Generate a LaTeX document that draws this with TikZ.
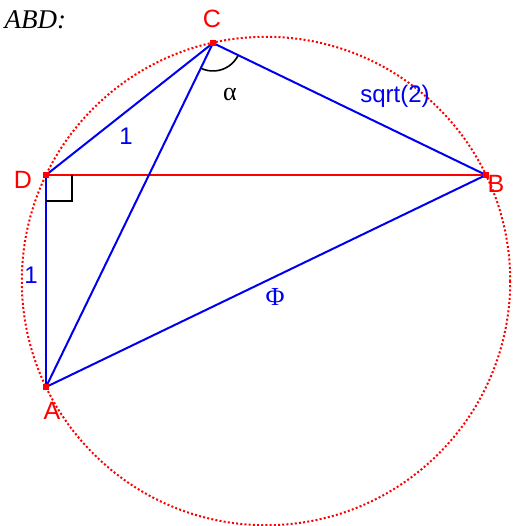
\documentclass[tikz,border=0pt]{standalone}
\usepackage{fontspec}
\setmainfont{Liberation Sans}
\newfontfamily\greekfont{Liberation Serif}
\definecolor{ptred}{HTML}{FF0000}
\definecolor{segblue}{HTML}{0000F0}
\usetikzlibrary{angles, calc}

\tikzset{
  seg/.style={segblue, line width=2pt},
  vlabel/.style={ptred, font=\fontsize{25}{28}\selectfont},
  slabel/.style={segblue, font=\fontsize{24}{28}\selectfont},
  dot/.style={fill=ptred, minimum size=6pt, inner sep=0pt}
}

\begin{document}
\begin{tikzpicture}[x=1pt, y=-1pt]
   \useasboundingbox (0,0) rectangle (512,526);
   % Points of the quadrilateral
   \coordinate (A) at (46,387);
   \coordinate (B) at (486,175);
   \coordinate (C) at (213,43);
   \coordinate (D) at (46,175);
   \coordinate (M) at ($(A)!0.5!(B)$);
   % Circle through A, B, D (AB is a diameter)
   \draw[ptred, line width=2pt, dash pattern=on 2pt off 2.2pt] (M) circle (244.2);
   % Heading
   \node[anchor=west, font=\greekfont\itshape\fontsize{27}{30}\selectfont] (title) at (1,20) {ABD:};
   % Red side DB
   \draw[ptred, line width=2pt] (D) -- (B);
   % Blue sides
   \draw[seg] (D) -- (C);
   \draw[seg] (C) -- (B);
   \draw[seg] (C) -- (A);
   \draw[seg] (D) -- (A);
   \draw[seg] (A) -- (B);
   % Right angle at D
   \draw[line width=1.6pt] (D) ++(0,26) -- ++(26,0) -- ++(0,-26);
   % Angle alpha at C
   \pic[draw, line width=1.6pt, angle radius=28pt] {angle=A--C--B};
   % Point markers
   \foreach \p in {A,B,C,D}
      \node[dot] (m\p) at (\p) {};
   % Vertex labels
   \node[vlabel] (lA) at (52,411) {A};
   \node[vlabel] (lB) at (496,184) {B};
   \node[vlabel] (lC) at (212,19) {C};
   \node[vlabel] (lD) at (23,180) {D};
   % Side labels
   \node[slabel] (lDC) at (126,136) {1};
   \node[slabel] (lDA) at (31,275) {1};
   \node[slabel] (lCB) at (395,96) {sqrt(2)};
   \node[segblue, font=\greekfont\fontsize{26}{28}\selectfont] (lAB) at (275,297) {Φ};
   \node[font=\greekfont\fontsize{26}{28}\selectfont] (alpha) at (230,94) {α};
\end{tikzpicture}
\end{document}
